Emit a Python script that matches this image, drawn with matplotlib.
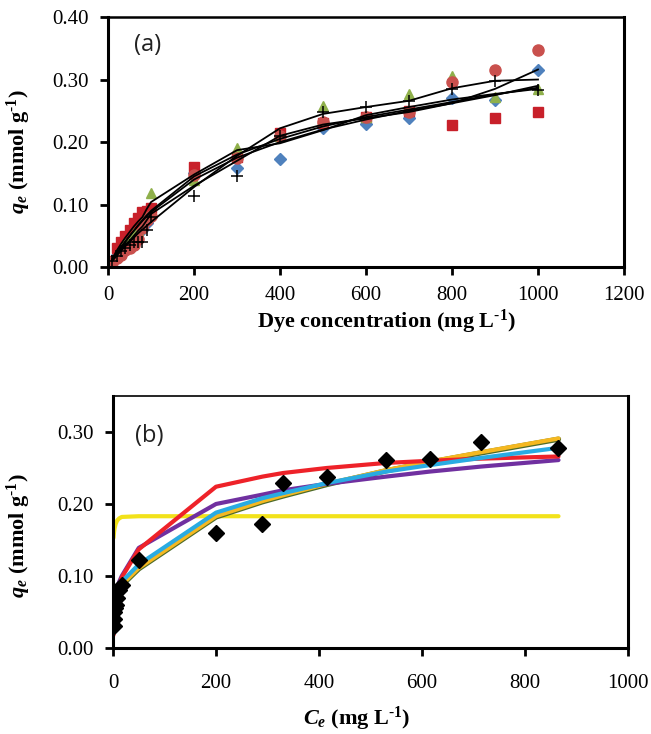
import matplotlib
import matplotlib.pyplot as plt

matplotlib.use("agg")

plt.rcParams["font.family"] = ["Liberation Serif", "DejaVu Serif"]
plt.rcParams["mathtext.fontset"] = "custom"
plt.rcParams["mathtext.rm"] = "Liberation Serif:bold"
plt.rcParams["mathtext.bf"] = "Liberation Serif:bold"
plt.rcParams["mathtext.it"] = "Liberation Serif:bold:italic"
plt.rcParams["mathtext.bfit"] = "Liberation Serif:bold:italic"

# panel (a): dye concentration vs uptake, five samples
conc = [10, 20, 30, 40, 50, 60, 70, 80, 90, 100, 200, 300, 400, 500, 600, 700, 800, 900, 1000]
qe_diamond = [0.010, 0.020, 0.028, 0.035, 0.042, 0.050, 0.055, 0.060, 0.070, 0.080,
              0.150, 0.158, 0.173, 0.222, 0.229, 0.238, 0.270, 0.268, 0.316]
qe_square = [0.010, 0.030, 0.040, 0.050, 0.060, 0.070, 0.078, 0.088, 0.090, 0.094,
             0.160, 0.176, 0.214, 0.230, 0.240, 0.250, 0.228, 0.238, 0.248]
qe_triangle = [0.012, 0.020, 0.030, 0.038, 0.045, 0.054, 0.060, 0.070, 0.080, 0.118,
               0.139, 0.190, 0.210, 0.258, 0.240, 0.277, 0.306, 0.272, 0.285]
qe_circle = [0.008, 0.015, 0.020, 0.027, 0.030, 0.035, 0.045, 0.063, 0.075, 0.082,
             0.148, 0.175, 0.210, 0.232, 0.240, 0.248, 0.296, 0.315, 0.348]
qe_plus = [0.010, 0.018, 0.025, 0.030, 0.035, 0.040, 0.040, 0.040, 0.060, 0.080,
           0.113, 0.145, 0.210, 0.248, 0.256, 0.265, 0.285, 0.297, 0.283]

# fitted curves for panel (a)
fit_a = [
    [0.012, 0.022, 0.030, 0.036, 0.042, 0.050, 0.058, 0.065, 0.075, 0.085,
     0.130, 0.170, 0.210, 0.228, 0.238, 0.248, 0.262, 0.285, 0.316],
    [0.010, 0.018, 0.026, 0.033, 0.040, 0.047, 0.054, 0.060, 0.066, 0.072,
     0.128, 0.178, 0.222, 0.245, 0.256, 0.266, 0.286, 0.298, 0.300],
    [0.012, 0.022, 0.032, 0.041, 0.050, 0.058, 0.066, 0.074, 0.081, 0.088,
     0.140, 0.175, 0.200, 0.220, 0.236, 0.250, 0.262, 0.275, 0.290],
    [0.010, 0.020, 0.030, 0.040, 0.049, 0.058, 0.067, 0.075, 0.083, 0.090,
     0.145, 0.180, 0.205, 0.225, 0.240, 0.252, 0.264, 0.276, 0.287],
    [0.014, 0.026, 0.037, 0.047, 0.056, 0.065, 0.073, 0.080, 0.093, 0.104,
     0.148, 0.187, 0.198, 0.219, 0.243, 0.256, 0.268, 0.277, 0.285],
]

# panel (b): equilibrium data and isotherm model fits
ce = [1, 1.5, 2, 3, 5, 8, 12, 17, 50, 200, 290, 330, 415, 530, 615, 715, 865]
qe_b = [0.030, 0.040, 0.050, 0.055, 0.060, 0.070, 0.080, 0.088, 0.122,
        0.160, 0.172, 0.229, 0.238, 0.261, 0.262, 0.286, 0.278]
fit_red = [0.018, 0.025, 0.030, 0.040, 0.055, 0.070, 0.085, 0.098, 0.137,
           0.224, 0.238, 0.243, 0.250, 0.257, 0.260, 0.263, 0.266]
fit_purple = [0.030, 0.040, 0.047, 0.058, 0.070, 0.082, 0.092, 0.100, 0.139,
              0.200, 0.213, 0.219, 0.228, 0.238, 0.245, 0.252, 0.261]
fit_olive = [0.034, 0.042, 0.047, 0.054, 0.063, 0.072, 0.080, 0.087, 0.110,
             0.182, 0.203, 0.211, 0.227, 0.246, 0.258, 0.271, 0.290]
fit_orange = [0.035, 0.043, 0.048, 0.055, 0.064, 0.073, 0.081, 0.088, 0.111,
              0.183, 0.204, 0.212, 0.228, 0.247, 0.259, 0.272, 0.291]
fit_cyan = [0.040, 0.048, 0.053, 0.060, 0.068, 0.077, 0.085, 0.092, 0.116,
            0.188, 0.208, 0.215, 0.229, 0.245, 0.254, 0.264, 0.278]
fit_yellow = [0.153, 0.157, 0.161, 0.166, 0.172, 0.177, 0.180, 0.182, 0.183,
              0.183, 0.183, 0.183, 0.183, 0.183, 0.183, 0.183, 0.183]

fig = plt.figure(figsize=(6.51, 7.34), dpi=100)
ax1 = fig.add_axes([0.166, 0.6362, 0.7925, 0.3406])
ax2 = fig.add_axes([0.1736, 0.1172, 0.7911, 0.3433])

ax1.plot(conc, qe_diamond, "D", color="#4F81BD", ms=6, ls="none")
ax1.plot(conc, qe_square, "s", color="#C8202A", ms=7.5, ls="none")
ax1.plot(conc, qe_triangle, "^", color="#8FB04B", ms=7.5, ls="none")
ax1.plot(conc, qe_circle, "o", color="#C9504D", ms=8, ls="none")
ax1.plot(conc, qe_plus, "+", color="black", ms=8.5, mew=1.1, ls="none")
for f in fit_a:
    ax1.plot(conc, f, color="black", lw=1.3)

ax1.set_xlim(0, 1200)
ax1.set_ylim(0, 0.40)
ax1.set_xticks(range(0, 1201, 200))
ax1.set_yticks([0, 0.1, 0.2, 0.3, 0.4])
ax1.set_yticklabels(["0.00", "0.10", "0.20", "0.30", "0.40"])
ax1.set_xlabel(r"Dye concentration (mg L$^{\text{-1}}$)", fontsize=16, fontweight="bold")
ax1.set_ylabel(r"$q_e$ (mmol g$^{\text{-1}}$)", fontsize=16, fontweight="bold")
ax1.xaxis.set_label_coords(0.54, -0.165)
ax1.yaxis.set_label_coords(-0.145, 0.46)
ax1.text(0.05, 0.89, "(a)", transform=ax1.transAxes, fontsize=17, family="Open Sans",
         color="#222222", va="center")

ax2.plot(ce, fit_yellow, color="#F2E21A", lw=3, solid_capstyle="round")
ax2.plot(ce, fit_olive, color="#4E6B2A", lw=3.8, solid_capstyle="round")
ax2.plot(ce, fit_orange, color="#F5B820", lw=3, solid_capstyle="round")
ax2.plot(ce, fit_purple, color="#7030A0", lw=3, solid_capstyle="round")
ax2.plot(ce, fit_red, color="#EE2229", lw=3, solid_capstyle="round")
ax2.plot(ce, fit_cyan, color="#29ABE2", lw=3, solid_capstyle="round")
ax2.plot(ce, qe_b, "D", color="black", ms=8, ls="none")

ax2.set_xlim(0, 1000)
ax2.set_ylim(0, 0.35)
ax2.set_xticks(range(0, 1001, 200))
ax2.set_yticks([0, 0.1, 0.2, 0.3])
ax2.set_yticklabels(["0.00", "0.10", "0.20", "0.30"])
ax2.set_xlabel(r"$C_e$ (mg L$^{\text{-1}}$)", fontsize=16, fontweight="bold")
ax2.set_ylabel(r"$q_e$ (mmol g$^{\text{-1}}$)", fontsize=16, fontweight="bold")
ax2.xaxis.set_label_coords(0.474, -0.225)
ax2.yaxis.set_label_coords(-0.155, 0.444)
ax2.text(0.043, 0.84, "(b)", transform=ax2.transAxes, fontsize=17, family="Open Sans",
         color="#222222", va="center")

for ax in (ax1, ax2):
    for side in ("left", "bottom", "right"):
        ax.spines[side].set_linewidth(2.2)
    ax.spines["top"].set_linewidth(1.2)
    ax.tick_params(direction="out", length=6, width=2, labelsize=15)
    ax.tick_params(axis="y", pad=8)
ax1.tick_params(axis="x", pad=8)
ax2.tick_params(axis="x", pad=13)
ax1.spines["top"].set_linewidth(1.8)

fig.savefig("out.png", dpi=100)
plt.close(fig)
